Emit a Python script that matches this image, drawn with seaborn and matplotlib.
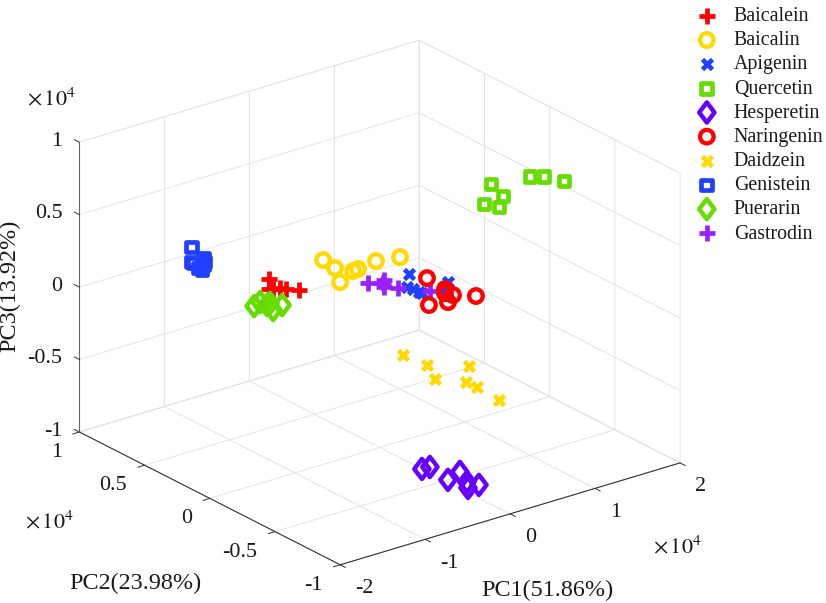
import matplotlib
matplotlib.use('Agg')
import matplotlib.pyplot as plt
import seaborn as sns
from matplotlib.path import Path

# scores, in units of 1e4
baicalein_x = [-0.919, -0.919, -0.872, -0.789, -0.719, -0.566]
baicalein_y = [0.25, 0.25, 0.25, 0.25, 0.25, 0.25]
baicalein_z = [0.209, 0.140, 0.132, 0.124, 0.105, 0.071]

baicalin_x = [-0.207, -0.066, -0.007, 0.146, 0.205, 0.416, 0.699]
baicalin_y = [0.3, 0.3, 0.3, 0.3, 0.3, 0.3, 0.3]
baicalin_z = [0.192, 0.112, 0.005, 0.054, 0.058, 0.076, 0.053]

apigenin_x = [0.651, 0.628, 0.698, 0.769, 0.804, 1.051, 1.110]
apigenin_y = [0.2, 0.2, 0.2, 0.2, 0.2, 0.2, 0.2]
apigenin_z = [-0.010, -0.095, -0.121, -0.154, -0.168, -0.197, -0.146]

quercetin_x = [0.848, 0.989, 0.766, 0.942, 1.307, 1.472, 1.707]
quercetin_y = [-0.3, -0.3, -0.3, -0.3, -0.3, -0.3, -0.3]
quercetin_z = [0.806, 0.698, 0.682, 0.631, 0.780, 0.751, 0.676]

hesperetin_x = [-0.578, -0.484, -0.272, -0.131, -0.048, -0.036, 0.093]
hesperetin_y = [-0.7, -0.7, -0.7, -0.7, -0.7, -0.7, -0.7]
hesperetin_z = [-0.726, -0.729, -0.855, -0.825, -0.909, -0.952, -0.954]

naringenin_x = [0.556, 0.579, 0.768, 0.768, 0.803, 0.862, 1.132]
naringenin_y = [0.0, 0.0, 0.0, 0.0, 0.0, 0.0, 0.0]
naringenin_z = [0.071, -0.119, -0.042, -0.070, -0.138, -0.100, -0.154]

daidzein_x = [-0.034, 0.249, 0.343, 0.743, 0.708, 0.837, 1.096]
daidzein_y = [-0.2, -0.2, -0.2, -0.2, -0.2, -0.2, -0.2]
daidzein_z = [-0.264, -0.383, -0.496, -0.477, -0.581, -0.638, -0.773]

genistein_x = [-1.606, -1.606, -1.465, -1.465, -1.524, -1.477, -1.583, -1.442]
genistein_y = [0.4, 0.4, 0.4, 0.4, 0.4, 0.4, 0.4, 0.4]
genistein_z = [0.482, 0.378, 0.381, 0.333, 0.323, 0.301, 0.368, 0.350]

puerarin_x = [-1.326, -1.255, -1.173, -1.102, -0.996, -1.138]
puerarin_y = [0.1, 0.1, 0.1, 0.1, 0.1, 0.1]
puerarin_z = [0.163, 0.178, 0.143, 0.096, 0.112, 0.151]

gastrodin_x = [0.169, 0.357, 0.357, 0.345, 0.522, 0.898]
gastrodin_y = [0.2, 0.2, 0.2, 0.2, 0.2, 0.2]
gastrodin_z = [0.013, 0.001, -0.048, -0.018, -0.083, -0.170]

names = ['Baicalein', 'Baicalin', 'Apigenin', 'Quercetin', 'Hesperetin',
         'Naringenin', 'Daidzein', 'Genistein', 'Puerarin', 'Gastrodin']
xs = [baicalein_x, baicalin_x, apigenin_x, quercetin_x, hesperetin_x,
      naringenin_x, daidzein_x, genistein_x, puerarin_x, gastrodin_x]
ys = [baicalein_y, baicalin_y, apigenin_y, quercetin_y, hesperetin_y,
      naringenin_y, daidzein_y, genistein_y, puerarin_y, gastrodin_y]
zs = [baicalein_z, baicalin_z, apigenin_z, quercetin_z, hesperetin_z,
      naringenin_z, daidzein_z, genistein_z, puerarin_z, gastrodin_z]

x_ticks = [-2, -1, 0, 1, 2]
y_ticks = [-1, -0.5, 0, 0.5, 1]
z_ticks = [-1, -0.5, 0, 0.5, 1]

sns.set_theme(style='white')
plt.rcParams['font.family'] = ['Liberation Serif', 'DejaVu Serif']
plt.rcParams['mathtext.fontset'] = 'stix'

colors = sns.color_palette(['#ff0000', '#ffd900', '#2040ff', '#66dd00', '#6600ff',
                            '#ff0000', '#ffd900', '#2040ff', '#66dd00', '#9a20ff'])
diamond = Path([(0, 1), (0.76, 0), (0, -1), (-0.76, 0), (0, 1)], closed=True)
markers = ['+', 'o', 'x', 's', diamond, 'o', 'x', 's', diamond, '+']
sizes = [117, 95, 52, 60, 210, 95, 52, 60, 210, 117]
widths = [3.4, 3.1, 3.4, 3.4, 3.2, 3.1, 3.4, 3.4, 3.2, 3.4]

fig = plt.figure(figsize=(8.26, 6.03), dpi=100)
ax = fig.add_axes([39.4 / 826, -39.9 / 603, 662.8 / 826, 662.8 / 603],
                  projection='3d', proj_type='ortho')
ax.patch.set_alpha(0)
ax.view_init(elev=23, azim=-127.5)
ax.set_box_aspect((1, 1, 0.735))
ax.set_xlim(-2, 2, view_margin=0)
ax.set_ylim(-1, 1, view_margin=0)
ax.set_zlim(-1, 1, view_margin=0)

handles = []
for i in range(len(names)):
    if markers[i] in ('+', 'x'):
        h = ax.scatter(xs[i], ys[i], zs[i], marker=markers[i], s=sizes[i], color=colors[i],
                       linewidths=widths[i], depthshade=False, label=names[i])
    else:
        h = ax.scatter(xs[i], ys[i], zs[i], marker=markers[i], s=sizes[i], facecolors='none',
                       edgecolors=[colors[i]], linewidths=widths[i], depthshade=False, label=names[i])
    handles.append(h)

ax.set_xticks(x_ticks)
ax.set_yticks(y_ticks)
ax.set_zticks(z_ticks)
ax.set_xticklabels(['-2', '-1', '0', '1', '2'], ha='left', va='center', fontsize=15.8)
ax.set_yticklabels(['-1', '-0.5', '0', '0.5', '1'], ha='right', va='center', fontsize=15.8)
ax.set_zticklabels(['-1', '-0.5', '0', '0.5', '1'], ha='right', va='center', fontsize=15.8)
ax.tick_params(axis='x', pad=6, colors='#1a1a1a')
ax.tick_params(axis='y', pad=5, colors='#1a1a1a')
ax.tick_params(axis='z', pad=-1, colors='#1a1a1a')

for axis in (ax.xaxis, ax.yaxis, ax.zaxis):
    axis.pane.set_facecolor('white')
    axis.pane.set_edgecolor('#e4e4e4')
    axis.pane.set_linewidth(0.7)
    axis.line.set_color('#333333')
    axis.line.set_linewidth(0.8)
    axis._axinfo['grid'].update(color='#e4e4e4', linewidth=0.7)
    axis._axinfo['tick'].update(inward_factor=0, outward_factor=-0.25)
    axis._axinfo['tick']['linewidth'] = {True: 0.7, False: 0.5}
    axis.set_tick_params(color='#333333')
ax.zaxis.line.set_color('#666666')
# z ticks lean along y, like the x and y ticks lean along each other
ax.zaxis._get_tickdir = lambda position: 1
ax.zaxis._axinfo['tick']['outward_factor'] = 0.25

fig.text(547 / 826, 1 - 590 / 603, 'PC1(51.86%)', fontsize=17.4, ha='center', va='center', color='#1a1a1a')
fig.text(135 / 826, 1 - 583 / 603, 'PC2(23.98%)', fontsize=17.4, ha='center', va='center', color='#1a1a1a')
fig.text(10 / 826, 1 - 286 / 603, 'PC3(13.92%)', fontsize=17.4, ha='center', va='center',
         rotation=90, color='#1a1a1a')
fig.text(27 / 826, 1 - 105 / 603, r'$\times\,10^{4}$', fontsize=16, color='#1a1a1a')
fig.text(25 / 826, 1 - 528 / 603, r'$\times\,10^{4}$', fontsize=16, color='#1a1a1a')
fig.text(653 / 826, 1 - 553 / 603, r'$\times\,10^{4}$', fontsize=16, color='#1a1a1a')

fig.legend(handles=handles, loc='upper left', bbox_to_anchor=(684 / 826, 1.0015), frameon=False,
           fontsize=14.3, labelspacing=0.26, handletextpad=0.6, handlelength=1.5, borderaxespad=0,
           scatterpoints=1, labelcolor='#1a1a1a')

fig.savefig('out.png', dpi=100)
